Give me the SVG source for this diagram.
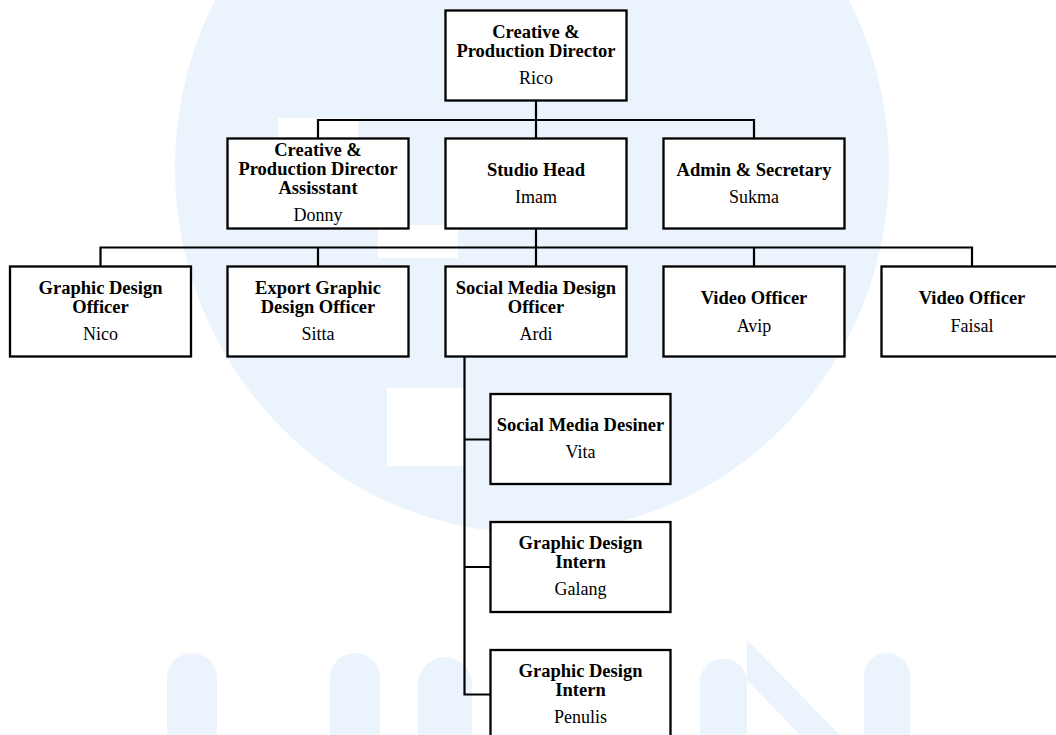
<svg xmlns="http://www.w3.org/2000/svg" width="1056" height="735" viewBox="0 0 1056 735">
  <style>
    .box { fill: #ffffff; stroke: #000000; stroke-width: 2.3; }
    .conn { fill: none; stroke: #000000; stroke-width: 2.2; stroke-linecap: square; }
    .t { font-family: "Liberation Serif", "Times New Roman", serif; font-weight: bold; font-size: 18.5px; fill: #000000; text-anchor: middle; }
    .n { font-family: "Liberation Serif", "Times New Roman", serif; font-size: 18px; fill: #000000; text-anchor: middle; }
    .wm { fill: #EBF4FD; }
    .wh { fill: #ffffff; }
  </style>
  <rect x="0" y="0" width="1056" height="735" fill="#ffffff"/>
  <g id="watermark">
    <ellipse class="wm" cx="532" cy="168" rx="357" ry="365"/>
    <rect class="wh" x="278" y="118" width="80" height="20"/>
    <rect class="wh" x="378" y="225" width="80" height="33"/>
    <rect class="wh" x="387" y="388" width="78" height="78"/>
    <path class="wm" d="M167,735 V678 a25,25 0 0 1 50,0 V735 Z"/>
    <path class="wm" d="M330,735 V678 a25,25 0 0 1 50,0 V735 Z"/>
    <path class="wm" d="M418,735 V684 a27,27 0 0 1 54,0 V735 Z"/>
    <path class="wm" d="M700,735 V678 a24,24 0 0 1 47,0 V735 Z"/>
    <path class="wm" d="M747,680 L800,735 L840,735 L747,640 Z"/>
    <path class="wm" d="M864,735 V676 a23,23 0 0 1 46,0 V735 Z"/>
  </g>
  <g id="connectors">
    <path class="conn" d="M536,100.5 V138.5 M318,120 H754 M318,120 V138.5 M754,120 V138.5"/>
    <path class="conn" d="M536,228.5 V266.5 M100.5,247.5 H972 M100.5,247.5 V266.5 M318,247.5 V266.5 M754,247.5 V266.5 M972,247.5 V266.5"/>
    <path class="conn" d="M464.5,356.5 V694.5 M464.5,439.5 H490.5 M464.5,567 H490.5 M464.5,694.5 H490.5"/>
  </g>
  <g id="node-director">
    <rect class="box" x="445.5" y="10.5" width="181" height="90"/>
    <text class="t" x="536" y="38">Creative &amp;</text>
    <text class="t" x="536" y="57">Production Director</text>
    <text class="n" x="536" y="84">Rico</text>
  </g>
  <g id="node-assistant">
    <rect class="box" x="227.5" y="138.5" width="181" height="90"/>
    <text class="t" x="318" y="156.3">Creative &amp;</text>
    <text class="t" x="318" y="175.3">Production Director</text>
    <text class="t" x="318" y="194.3">Assisstant</text>
    <text class="n" x="318" y="221.3">Donny</text>
  </g>
  <g id="node-studio-head">
    <rect class="box" x="445.5" y="138.5" width="181" height="90"/>
    <text class="t" x="536" y="176">Studio Head</text>
    <text class="n" x="536" y="202.6">Imam</text>
  </g>
  <g id="node-admin">
    <rect class="box" x="663.5" y="138.5" width="181" height="90"/>
    <text class="t" x="754" y="176">Admin &amp; Secretary</text>
    <text class="n" x="754" y="202.6">Sukma</text>
  </g>
  <g id="node-graphic-design-officer">
    <rect class="box" x="10" y="266.5" width="181" height="90"/>
    <text class="t" x="100.5" y="294">Graphic Design</text>
    <text class="t" x="100.5" y="313">Officer</text>
    <text class="n" x="100.5" y="340">Nico</text>
  </g>
  <g id="node-export-graphic">
    <rect class="box" x="227.5" y="266.5" width="181" height="90"/>
    <text class="t" x="318" y="294">Export Graphic</text>
    <text class="t" x="318" y="313">Design Officer</text>
    <text class="n" x="318" y="340">Sitta</text>
  </g>
  <g id="node-social-media-officer">
    <rect class="box" x="445.5" y="266.5" width="181" height="90"/>
    <text class="t" x="536" y="294">Social Media Design</text>
    <text class="t" x="536" y="313">Officer</text>
    <text class="n" x="536" y="340">Ardi</text>
  </g>
  <g id="node-video-avip">
    <rect class="box" x="663.5" y="266.5" width="181" height="90"/>
    <text class="t" x="754" y="304">Video Officer</text>
    <text class="n" x="754" y="331.6">Avip</text>
  </g>
  <g id="node-video-faisal">
    <rect class="box" x="881.5" y="266.5" width="181" height="90"/>
    <text class="t" x="972" y="304">Video Officer</text>
    <text class="n" x="972" y="331.6">Faisal</text>
  </g>
  <g id="node-social-media-designer">
    <rect class="box" x="490.5" y="394" width="180" height="90"/>
    <text class="t" x="580.5" y="431.3">Social Media Desiner</text>
    <text class="n" x="580.5" y="457.8">Vita</text>
  </g>
  <g id="node-intern-galang">
    <rect class="box" x="490.5" y="522" width="180" height="90"/>
    <text class="t" x="580.5" y="549.3">Graphic Design</text>
    <text class="t" x="580.5" y="568">Intern</text>
    <text class="n" x="580.5" y="594.5">Galang</text>
  </g>
  <g id="node-intern-penulis">
    <rect class="box" x="490.5" y="650" width="180" height="90"/>
    <text class="t" x="580.5" y="677.3">Graphic Design</text>
    <text class="t" x="580.5" y="696">Intern</text>
    <text class="n" x="580.5" y="722.5">Penulis</text>
  </g>
</svg>
